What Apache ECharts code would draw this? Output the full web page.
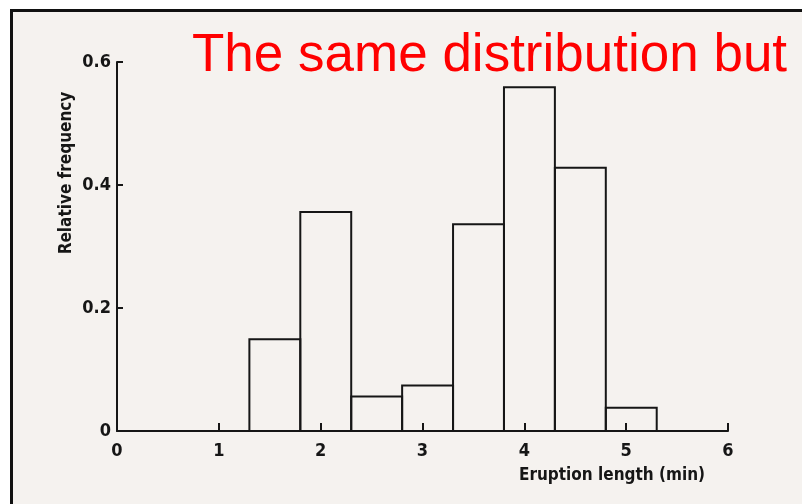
<!DOCTYPE html>
<html>
<head>
<meta charset="utf-8">
<script src="https://cdn.jsdelivr.net/npm/echarts@6/dist/echarts.min.js"></script>
<style>
  html, body { margin: 0; padding: 0; background: #ffffff; }
  #wrap { position: relative; width: 802px; height: 504px; overflow: hidden; }
  /* scanned page with black frame */
  #paper { position: absolute; left: 10px; top: 9px; width: 820px; height: 520px;
           border: 3px solid #111; background: #f5f2ef; }
  #chart { position: absolute; left: 0; top: 0; width: 802px; height: 504px; }
</style>
</head>
<body>
<div id="wrap">
  <div id="paper"></div>
  <div id="chart"></div>
</div>
<script>
// histogram of eruption lengths (relative frequency density)
const binEdges = [1.3, 1.8, 2.3, 2.8, 3.3, 3.8, 4.3, 4.8, 5.3];
const freq = [0.149, 0.356, 0.056, 0.074, 0.336, 0.559, 0.428, 0.038];
const xTicks = [0, 1, 2, 3, 4, 5, 6];
const yTicks = [0, 0.2, 0.4, 0.6];

const titleText = 'The same distribution but';
const xName = 'Eruption length (min)';
const yName = 'Relative frequency';

const ink = '#161616';
const font = 'DejaVu Sans Condensed';

const bins = freq.map((f, i) => [binEdges[i], binEdges[i + 1], f]);

const chart = echarts.init(document.getElementById('chart'));

chart.setOption({
  backgroundColor: 'transparent',
  animation: false,
  grid: { left: 117, right: 74, top: 62, bottom: 73 },
  xAxis: {
    type: 'value',
    min: xTicks[0], max: xTicks[xTicks.length - 1], interval: 1,
    axisLine: { lineStyle: { color: ink, width: 2 } },
    axisTick: { inside: true, length: 8, lineStyle: { color: ink, width: 2 } },
    axisLabel: { color: ink, fontFamily: font, fontWeight: 'bold', fontSize: 18, margin: 11 },
    splitLine: { show: false }
  },
  yAxis: {
    type: 'value',
    min: yTicks[0], max: yTicks[yTicks.length - 1], interval: 0.2,
    axisLine: { show: true, lineStyle: { color: ink, width: 2 } },
    axisTick: { show: true, inside: true, length: 6, lineStyle: { color: ink, width: 2 } },
    axisLabel: { color: ink, fontFamily: font, fontWeight: 'bold', fontSize: 18, margin: 6 },
    splitLine: { show: false }
  },
  graphic: [
    {
      type: 'text', left: 192, top: 30,
      style: { text: titleText, fill: '#ff0000', font: '53px "Liberation Sans", Arial, sans-serif' }
    },
    {
      type: 'text', x: 612, y: 476,
      style: { text: xName, fill: ink, font: 'bold 17px "DejaVu Sans Condensed"', align: 'center', verticalAlign: 'middle' }
    },
    {
      type: 'text', x: 67, y: 173, rotation: Math.PI / 2,
      style: { text: yName, fill: ink, font: 'bold 17px "DejaVu Sans Condensed"', align: 'center', verticalAlign: 'middle' }
    }
  ],
  series: [{
    type: 'custom',
    data: bins,
    renderItem: (params, api) => {
      const p0 = api.coord([api.value(0), api.value(2)]);
      const p1 = api.coord([api.value(1), 0]);
      return {
        type: 'rect',
        shape: { x: p0[0], y: p0[1], width: p1[0] - p0[0], height: p1[1] - p0[1] },
        style: { fill: 'none', stroke: ink, lineWidth: 2 }
      };
    }
  }]
});
</script>
</body>
</html>
